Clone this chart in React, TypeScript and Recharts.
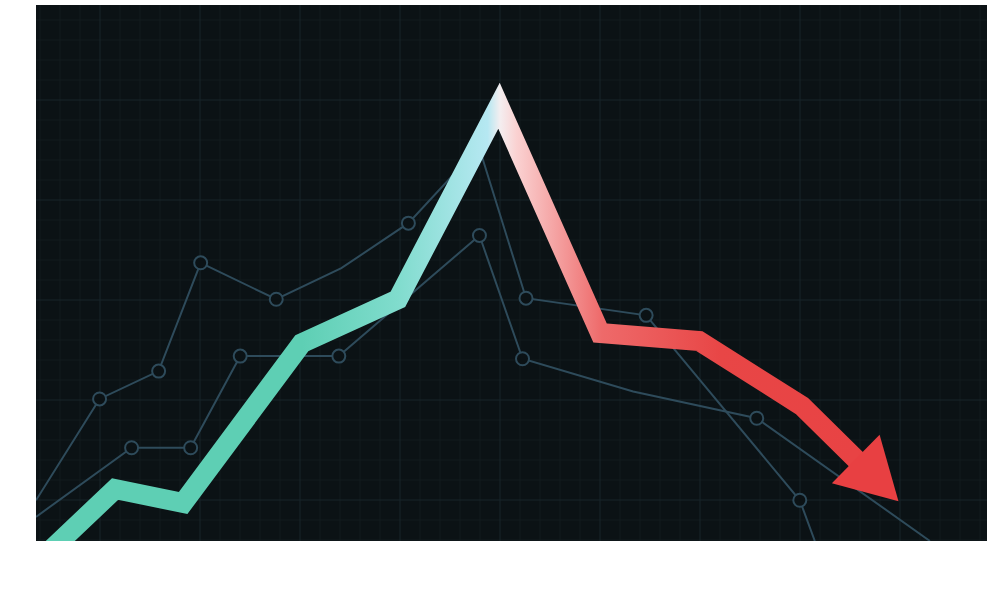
import { CartesianGrid, Line, LineChart, XAxis, YAxis } from "recharts";

// x in weeks, y as index points
const trendA = [
  { x: 0, y: 7.6, m: false },
  { x: 1.27, y: 26.5, m: true },
  { x: 2.45, y: 31.7, m: true },
  { x: 3.29, y: 51.9, m: true },
  { x: 4.8, y: 45.1, m: true },
  { x: 6.1, y: 50.9, m: false },
  { x: 7.44, y: 59.3, m: true },
  { x: 8.85, y: 73.5, m: false },
  { x: 9.79, y: 45.3, m: true },
  { x: 12.19, y: 42.1, m: true },
  { x: 15.26, y: 7.6, m: true },
  { x: 15.56, y: 0, m: false },
];

const trendB = [
  { x: 0, y: 4.5, m: false },
  { x: 1.91, y: 17.4, m: true },
  { x: 3.09, y: 17.4, m: true },
  { x: 4.08, y: 34.5, m: true },
  { x: 6.05, y: 34.5, m: true },
  { x: 8.86, y: 57.0, m: true },
  { x: 9.72, y: 34.0, m: true },
  { x: 11.93, y: 27.9, m: false },
  { x: 14.4, y: 22.9, m: true },
  { x: 17.86, y: 0, m: false },
];

const mainTrend = [
  { x: 0, y: -4.3 },
  { x: 1.58, y: 9.7 },
  { x: 2.94, y: 7.1 },
  { x: 5.31, y: 36.9 },
  { x: 7.23, y: 45.1 },
  { x: 9.25, y: 81.2 },
  { x: 11.27, y: 38.8 },
  { x: 13.25, y: 37.3 },
  { x: 15.3, y: 25.2 },
  { x: 16.42, y: 14.9 },
];

const xDomain = [0, 19];
const yDomain = [0, 100];

const W = 1000;
const H = 600;
const margin = { top: 5, right: 13, bottom: 59, left: 36 };

const BG = "#0b1215";
const THIN = "#2e4b5b";
const RED = "#e84042";

// grid every 20px, heavier every 100px
const minorX: number[] = [];
const majorX: number[] = [];
for (let p = 40; p < W - margin.right; p += 20) (p % 100 === 0 ? majorX : minorX).push(p);
const minorY: number[] = [];
const majorY: number[] = [];
for (let p = 20; p < H - margin.bottom; p += 20) (p % 100 === 0 ? majorY : minorY).push(p);

const markerDot = (props: any) => {
  const { cx, cy, payload, index } = props;
  if (!payload || !payload.m) return <g key={`d${index}`} />;
  return <circle key={`d${index}`} cx={cx} cy={cy} r={6.5} fill={BG} stroke={THIN} strokeWidth={2} />;
};

const arrowDot = (props: any) => {
  const { cx, cy, index, points } = props;
  const last = mainTrend.length - 1;
  if (index !== last) return <g key={`a${index}`} />;
  let angle = 45;
  if (points && points[index - 1]) {
    const prev = points[index - 1];
    angle = (Math.atan2(cy - prev.y, cx - prev.x) * 180) / Math.PI;
  }
  return (
    <polygon
      key={`a${index}`}
      points="-3,-34 57,0 -3,34"
      transform={`translate(${cx},${cy}) rotate(${angle})`}
      fill={RED}
    />
  );
};

export default function App() {
  return (
    <div style={{ position: "absolute", left: 0, top: 0, width: W, height: H }}>
      <LineChart width={W} height={H} margin={margin}>
        <defs>
          <linearGradient id="trendGrad" gradientUnits="userSpaceOnUse" x1={36} y1={0} x2={987} y2={0}>
            <stop offset="0" stopColor="#5ecfb4" />
            <stop offset="0.28" stopColor="#5ecfb4" />
            <stop offset="0.38" stopColor="#80dccd" />
            <stop offset="0.475" stopColor="#b6e8f2" />
            <stop offset="0.488" stopColor="#f4eef0" />
            <stop offset="0.505" stopColor="#fad2d2" />
            <stop offset="0.595" stopColor="#ee6a6a" />
            <stop offset="0.72" stopColor="#e84646" />
            <stop offset="1" stopColor={RED} />
          </linearGradient>
        </defs>
        <CartesianGrid
          fill={BG}
          stroke="#121b1f"
          strokeWidth={1}
          horizontalPoints={minorY}
          verticalPoints={minorX}
        />
        <CartesianGrid
          stroke="#19242a"
          strokeWidth={1}
          horizontalPoints={majorY}
          verticalPoints={majorX}
        />
        <XAxis type="number" dataKey="x" domain={xDomain} allowDataOverflow hide />
        <YAxis type="number" dataKey="y" domain={yDomain} allowDataOverflow hide />
        <Line
          data={trendA}
          dataKey="y"
          type="linear"
          stroke={THIN}
          strokeWidth={2}
          dot={markerDot}
          activeDot={false}
          isAnimationActive={false}
        />
        <Line
          data={trendB}
          dataKey="y"
          type="linear"
          stroke={THIN}
          strokeWidth={2}
          dot={markerDot}
          activeDot={false}
          isAnimationActive={false}
        />
        <Line
          data={mainTrend}
          dataKey="y"
          type="linear"
          stroke="url(#trendGrad)"
          strokeWidth={20}
          strokeLinejoin="miter"
          dot={arrowDot}
          activeDot={false}
          isAnimationActive={false}
        />
      </LineChart>
    </div>
  );
}
